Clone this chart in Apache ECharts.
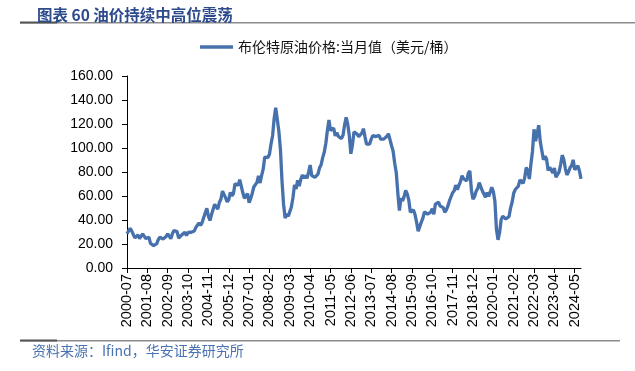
<!DOCTYPE html>
<html><head><meta charset="utf-8">
<script src="https://cdn.jsdelivr.net/npm/echarts@6/dist/echarts.min.js"></script>
<style>html,body{margin:0;padding:0;background:#fff}#c{width:635px;height:371px}</style>
</head><body><div id="c"></div>
<script>
const startYear = 2000, startMonth = 7;
const seriesName = '布伦特原油价格:当月值（美元/桶）';
const yTicks = [0, 20, 40, 60, 80, 100, 120, 140, 160];
const v2000 = [28.5, 29.9, 33.1, 30.9, 32.5, 25.1];
const v2001 = [25.6, 27.5, 24.5, 25.7, 28.4, 27.7, 24.5, 25.7, 25.6, 20.5, 18.9, 18.7];
const v2002 = [19.4, 20.3, 23.7, 25.7, 25.4, 24.1, 25.7, 26.3, 28.4, 27.5, 24.4, 28.5];
const v2003 = [31.2, 32.8, 30.3, 25.0, 25.8, 27.6, 28.4, 29.8, 27.1, 29.6, 28.8, 29.8];
const v2004 = [31.2, 30.9, 33.8, 33.4, 37.6, 35.5, 37.9, 42.1, 43.3, 49.8, 43.1, 39.6];
const v2005 = [44.5, 45.5, 53.1, 51.9, 49.0, 54.6, 57.5, 64.1, 62.8, 58.4, 55.2, 56.9];
const v2006 = [63.0, 60.1, 62.1, 70.3, 70.0, 68.9, 73.7, 73.2, 62.7, 58.0, 58.8, 62.0];
const v2007 = [54.5, 58.0, 62.1, 67.5, 67.5, 71.3, 76.8, 70.8, 77.2, 82.4, 92.5, 91.5];
const v2008 = [92.0, 94.8, 103.3, 110.2, 124.6, 133.5, 133.9, 113.9, 99.1, 72.7, 53.2, 41.6];
const v2009 = [44.9, 43.2, 47.0, 50.8, 58.6, 69.3, 65.8, 73.1, 68.2, 73.9, 77.5, 75.0];
const v2010 = [76.9, 74.8, 79.9, 85.8, 77.0, 75.7, 75.5, 77.1, 78.2, 83.5, 86.1, 92.0];
const v2011 = [96.5, 103.7, 114.6, 123.3, 114.5, 113.9, 116.7, 110.1, 112.8, 109.6, 110.5, 107.9];
const v2012 = [110.7, 119.3, 125.5, 119.8, 110.3, 95.2, 102.6, 113.4, 113.0, 111.5, 109.5, 109.2];
const v2013 = [112.3, 116.1, 109.5, 103.3, 103.3, 103.3, 107.4, 110.3, 111.2, 109.5, 107.9, 110.6];
const v2014 = [107.4, 108.8, 107.4, 107.8, 109.7, 111.9, 107.0, 101.9, 97.3, 87.3, 79.4, 62.3];
const v2015 = [47.8, 58.1, 55.9, 59.5, 64.6, 61.7, 56.5, 46.5, 47.6, 48.4, 44.3, 38.0];
const v2016 = [30.7, 32.2, 38.2, 41.6, 46.7, 48.3, 44.9, 45.8, 46.6, 49.5, 44.8, 53.3];
const v2017 = [54.6, 54.9, 51.6, 52.3, 50.3, 46.4, 48.5, 51.7, 56.2, 57.5, 62.7, 64.4];
const v2018 = [69.1, 65.3, 66.0, 72.1, 76.9, 74.4, 74.3, 72.5, 78.9, 81.0, 64.8, 57.4];
const v2019 = [59.4, 64.0, 66.1, 71.2, 71.1, 64.2, 63.9, 59.0, 62.8, 59.7, 63.2, 67.3];
const v2020 = [63.7, 55.7, 32.0, 23.5, 29.4, 40.3, 43.2, 44.7, 40.9, 40.2, 42.7, 49.9];
const v2021 = [54.8, 62.3, 65.4, 64.8, 68.3, 73.4, 74.3, 70.5, 74.9, 83.7, 81.1, 74.2];
const v2022 = [86.5, 97.1, 115.6, 105.8, 112.0, 119.0, 105.1, 97.7, 90.2, 93.1, 90.9, 81.3];
const v2023 = [83.9, 83.5, 79.2, 83.4, 75.7, 75.0, 80.1, 86.2, 94.0, 90.6, 82.9, 77.6];
const v2024 = [80.1, 83.5, 85.4, 90.1, 81.8, 82.6, 85.3, 80.9, 74.3];

const values = [].concat(v2000, v2001, v2002, v2003, v2004, v2005, v2006, v2007, v2008, v2009, v2010,
  v2011, v2012, v2013, v2014, v2015, v2016, v2017, v2018, v2019, v2020, v2021, v2022, v2023, v2024);
const categories = [];
for (let i = 0; i < values.length; i++) {
  const m = startMonth - 1 + i;
  const y = startYear + Math.floor(m / 12);
  const mm = (m % 12) + 1;
  categories.push(y + '-' + (mm < 10 ? '0' + mm : mm));
}

const chart = echarts.init(document.getElementById('c'), null, {renderer: 'canvas'});
const latin = '"Liberation Sans", Arial, sans-serif';
const cjk = '"Noto Sans CJK SC", sans-serif';
chart.setOption({
  animation: false,
  title: {
    text: '图表 60 油价持续中高位震荡', left: 32, top: 2,
    textStyle: {fontSize: 15.5, fontWeight: 'bold', color: '#2c4a8c', fontFamily: cjk}
  },
  graphic: [
    {type: 'rect', shape: {x: 20, y: 22, width: 615, height: 1.5}, style: {fill: '#8c8c8c'}},
    {type: 'rect', shape: {x: 20, y: 21.5, width: 37, height: 2}, style: {fill: '#555'}},
    {type: 'rect', shape: {x: 20, y: 340, width: 600, height: 1.5}, style: {fill: '#8c8c8c'}},
    {type: 'rect', shape: {x: 20, y: 339.5, width: 37, height: 2}, style: {fill: '#555'}},
    {type: 'text', left: 32, top: 344, style: {text: '资料来源：Ifind，华安证券研究所', fill: '#4a72b0', font: '14px ' + cjk}}
  ],
  legend: {
    top: 35, left: 195, itemWidth: 33, itemHeight: 3.5, itemGap: 4,
    icon: 'rect',
    textStyle: {fontSize: 14, color: '#111', fontFamily: cjk},
    data: [seriesName]
  },
  grid: {left: 127, top: 76, right: 54, bottom: 103},
  xAxis: {
    type: 'category', data: categories, boundaryGap: false,
    axisLine: {lineStyle: {color: '#000', width: 1}},
    axisTick: {interval: 12, length: 5, lineStyle: {color: '#000'}},
    axisLabel: {interval: 12, rotate: 90, fontSize: 14.5, color: '#000', fontFamily: latin, margin: 6}
  },
  yAxis: {
    type: 'value', min: yTicks[0], max: yTicks[yTicks.length - 1], interval: 20,
    splitLine: {show: false},
    axisLine: {show: true, lineStyle: {color: '#000', width: 1}},
    axisTick: {show: true, length: 5, lineStyle: {color: '#000'}},
    axisLabel: {fontSize: 14, color: '#000', fontFamily: latin, margin: 14,
      formatter: v => v.toFixed(2)}
  },
  series: [{
    name: seriesName, type: 'line', data: values, showSymbol: false,
    lineStyle: {color: '#4671ad', width: 3.3}, itemStyle: {color: '#4671ad'}
  }]
});
</script></body></html>
